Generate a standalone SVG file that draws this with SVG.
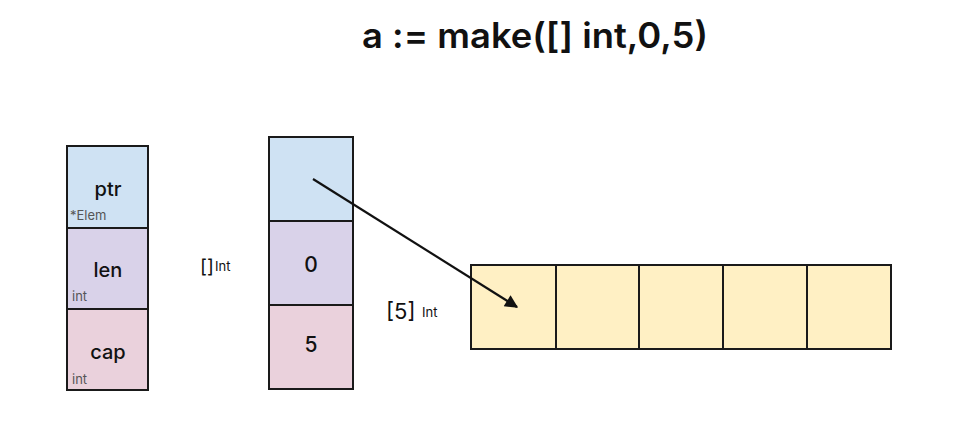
<svg xmlns="http://www.w3.org/2000/svg" width="960" height="441" viewBox="0 0 960 441">
<defs>
<style>
.c{stroke:#1a1a1a;stroke-width:2}
.b{fill:#cfe2f3}.p{fill:#d9d2e9}.k{fill:#ead1dc}.y{fill:#fff0c4}
.t{font-family:Inter,"Liberation Sans",Arial,sans-serif;fill:#111}
.m{font-size:20px;font-weight:500;text-anchor:middle}
.s{font-size:13px;fill:#555}
</style>
<marker id="ah" viewBox="0 0 10 10" refX="9" refY="5" markerWidth="16" markerHeight="13" markerUnits="userSpaceOnUse" orient="auto"><path d="M0,0L10,5L0,10z" fill="#111"/></marker>
</defs>
<rect width="960" height="441" fill="#fff"/>
<text class="t" x="535" y="48" font-size="35" font-weight="600" text-anchor="middle" textLength="346" lengthAdjust="spacingAndGlyphs">a := make([] int,0,5)</text>
<g id="slice-header">
<rect class="c b" x="67" y="146" width="81" height="82"/>
<rect class="c p" x="67" y="228" width="81" height="81"/>
<rect class="c k" x="67" y="309" width="81" height="81"/>
<text class="t m" x="108" y="196">ptr</text>
<text class="t s" x="70" y="220">*Elem</text>
<text class="t m" x="108" y="277">len</text>
<text class="t s" x="72" y="301">int</text>
<text class="t m" x="108" y="359">cap</text>
<text class="t s" x="72" y="384">int</text>
</g>
<g id="slice-type-label">
<text class="t" x="200" y="273" font-size="19">[]</text>
<text class="t" x="215" y="271" font-size="13">Int</text>
</g>
<g id="slice-value">
<rect class="c b" x="269" y="137" width="84" height="84"/>
<rect class="c p" x="269" y="221" width="84" height="84"/>
<rect class="c k" x="269" y="305" width="84" height="84"/>
<text class="t" x="311" y="272" font-size="21" font-weight="500" text-anchor="middle">0</text>
<text class="t" x="311" y="352" font-size="21" font-weight="500" text-anchor="middle">5</text>
</g>
<g id="array-label">
<text class="t" x="386" y="319" font-size="22">[5]</text>
<text class="t" x="422" y="317" font-size="13">Int</text>
</g>
<g id="array">
<rect class="c y" x="471" y="265" width="85" height="84"/>
<rect class="c y" x="556" y="265" width="83" height="84"/>
<rect class="c y" x="639" y="265" width="84" height="84"/>
<rect class="c y" x="723" y="265" width="84" height="84"/>
<rect class="c y" x="807" y="265" width="84" height="84"/>
</g>
<g id="connectors">
<line x1="313" y1="179" x2="517" y2="307" stroke="#111" stroke-width="2.2" marker-end="url(#ah)"/>
</g>
</svg>
